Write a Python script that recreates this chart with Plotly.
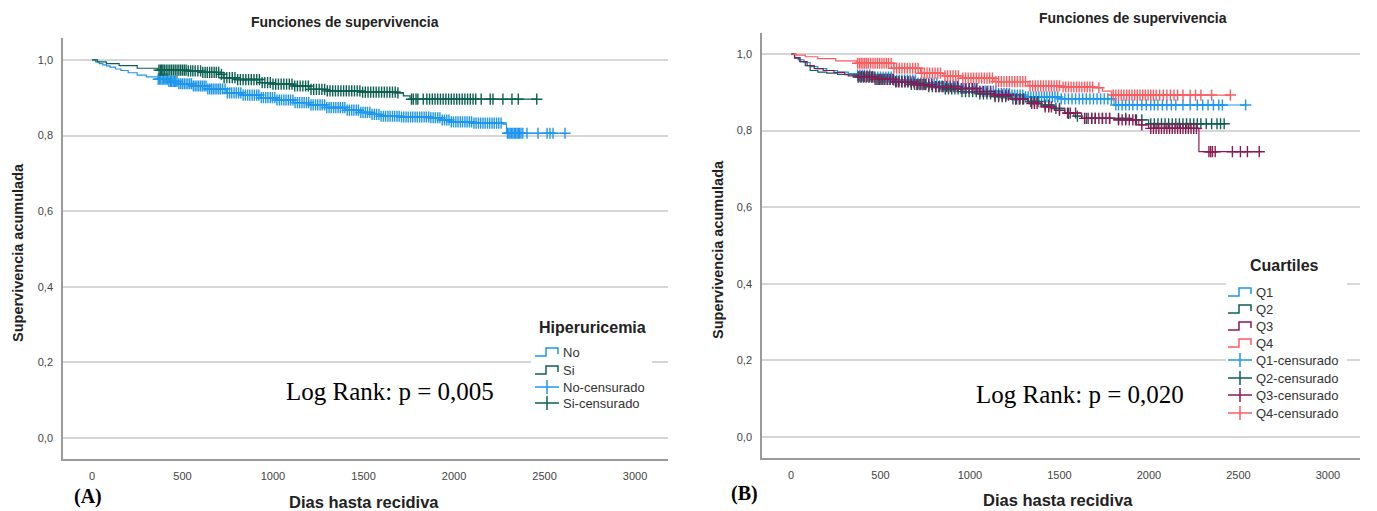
import numpy as np
import plotly.graph_objects as go

W, H = 1377, 511

# ---------------- DATA ----------------
# Panel A: Hiperuricemia
no_t = [0, 20, 40, 60, 80, 100, 130, 160, 200, 250, 300, 366, 420, 480, 560, 640, 744, 830, 928, 1020,
        1112, 1200, 1297, 1400, 1481, 1540, 1591, 1700, 1868, 1930, 1978, 2100, 2271, 2290]
no_s = [1.0, 0.995, 0.99, 0.987, 0.984, 0.981, 0.976, 0.972, 0.966, 0.960, 0.955, 0.949, 0.943, 0.937,
        0.931, 0.923, 0.913, 0.907, 0.900, 0.894, 0.887, 0.881, 0.874, 0.867, 0.861, 0.856, 0.851, 0.849,
        0.847, 0.841, 0.836, 0.833, 0.830, 0.806]
no_end = 2613
no_cens = [366, 372, 380, 388, 395, 403, 410, 418, 425, 433, 440, 448, 455, 463, 470, 480, 490, 500, 510,
           520, 530, 540, 550, 560, 570, 580, 590, 600, 610, 620, 630, 640, 650, 660, 670, 680, 690, 700,
           710, 722, 735, 748, 760, 772, 785, 797, 810, 822, 835, 847, 860, 872, 885, 897, 910, 922, 935,
           947, 960, 972, 985, 997, 1010, 1022, 1035, 1047, 1060, 1072, 1085, 1097, 1110, 1122, 1135, 1147,
           1160, 1172, 1185, 1197, 1210, 1222, 1235, 1247, 1260, 1272, 1285, 1297, 1310, 1322, 1335, 1347,
           1360, 1372, 1385, 1397, 1410, 1422, 1435, 1447, 1460, 1472, 1485, 1497, 1510, 1522, 1535, 1547,
           1560, 1572, 1585, 1597, 1610, 1622, 1635, 1647, 1660, 1672, 1685, 1697, 1710, 1722, 1735, 1747,
           1760, 1772, 1785, 1797, 1810, 1822, 1835, 1847, 1860, 1872, 1885, 1897, 1910, 1922, 1935, 1947,
           1960, 1972, 1985, 1997, 2010, 2022, 2035, 2047, 2060, 2072, 2085, 2097, 2110, 2122, 2135, 2147,
           2160, 2172, 2185, 2197, 2210, 2222, 2235, 2247, 2260, 2295, 2303, 2310, 2318, 2325, 2333, 2340,
           2348, 2355, 2362, 2370, 2380, 2403, 2464, 2514, 2530, 2547, 2613]

si_t = [0, 30, 80, 150, 250, 366, 523, 610, 707, 725, 800, 928, 1000, 1111, 1204, 1300, 1481, 1683,
        1720, 1757]
si_s = [1.0, 0.995, 0.99, 0.985, 0.978, 0.973, 0.971, 0.967, 0.962, 0.953, 0.948, 0.940, 0.936, 0.931,
        0.922, 0.918, 0.915, 0.913, 0.905, 0.896]
si_end = 2457
si_cens = [370, 378, 385, 392, 400, 410, 420, 430, 440, 450, 460, 470, 480, 490, 500, 510, 520, 532, 545,
           557, 570, 585, 600, 612, 625, 637, 650, 662, 675, 687, 700, 715, 730, 745, 760, 775, 790, 805,
           820, 835, 850, 865, 880, 895, 910, 925, 940, 955, 970, 985, 1000, 1015, 1030, 1045, 1060, 1075,
           1090, 1105, 1120, 1135, 1150, 1165, 1180, 1195, 1210, 1225, 1240, 1255, 1270, 1285, 1300, 1315,
           1330, 1345, 1360, 1375, 1390, 1405, 1420, 1435, 1450, 1465, 1480, 1495, 1510, 1525, 1540, 1555,
           1570, 1585, 1600, 1615, 1630, 1645, 1660, 1675, 1690, 1765, 1775, 1790, 1800, 1830, 1850, 1865,
           1880, 1895, 1910, 1925, 1940, 1955, 1970, 1985, 2000, 2015, 2030, 2045, 2060, 2075, 2090, 2105,
           2120, 2150, 2200, 2215, 2270, 2320, 2355, 2457]

# Panel B: Cuartiles
q1_t = [0, 20, 40, 73, 107, 150, 200, 260, 320, 369, 450, 575, 700, 820, 949, 1050, 1150, 1230, 1300,
        1493, 1805]
q1_s = [1.0, 0.99, 0.985, 0.978, 0.967, 0.962, 0.957, 0.953, 0.949, 0.945, 0.940, 0.932, 0.924, 0.917,
        0.910, 0.903, 0.897, 0.893, 0.888, 0.883, 0.867]
q1_end = 2540
q1_cens = [372, 385, 398, 410, 425, 440, 455, 470, 485, 500, 515, 530, 545, 560, 575, 590, 605, 620, 635,
           650, 665, 680, 695, 710, 725, 740, 755, 770, 785, 800, 815, 830, 845, 860, 875, 890, 905, 920,
           935, 950, 965, 980, 995, 1010, 1025, 1040, 1055, 1070, 1085, 1100, 1115, 1130, 1145, 1160, 1175,
           1190, 1205, 1220, 1235, 1250, 1265, 1280, 1295, 1310, 1325, 1340, 1355, 1370, 1385, 1400, 1415,
           1430, 1445, 1460, 1475, 1490, 1510, 1530, 1550, 1570, 1590, 1610, 1630, 1650, 1670, 1690, 1710,
           1730, 1750, 1770, 1790, 1815, 1830, 1850, 1870, 1890, 1910, 1935, 1960, 1985, 2010, 2030, 2050,
           2075, 2100, 2125, 2150, 2190, 2230, 2270, 2300, 2330, 2360, 2390, 2410, 2540]

q2_t = [0, 20, 50, 80, 107, 150, 200, 260, 320, 369, 470, 575, 670, 762, 850, 949, 1040, 1135, 1230,
        1324, 1400, 1472, 1530, 1580, 1624, 1905, 1998]
q2_s = [1.0, 0.99, 0.98, 0.97, 0.957, 0.953, 0.95, 0.947, 0.943, 0.940, 0.934, 0.928, 0.921, 0.915,
        0.909, 0.902, 0.896, 0.889, 0.883, 0.876, 0.867, 0.858, 0.845, 0.838, 0.832, 0.828, 0.818]
q2_end = 2420
q2_cens = [375, 390, 405, 420, 435, 450, 465, 480, 495, 510, 525, 540, 555, 570, 585, 600, 618, 636, 654,
           672, 690, 708, 726, 744, 770, 790, 808, 826, 844, 862, 880, 898, 916, 934, 955, 975, 995, 1015,
           1035, 1055, 1075, 1095, 1115, 1140, 1160, 1180, 1200, 1240, 1260, 1280, 1300, 1340, 1360, 1380,
           1420, 1440, 1480, 1500, 1550, 1600, 1650, 1680, 1700, 1740, 1780, 1830, 1870, 1930, 1960, 2010,
           2030, 2050, 2070, 2090, 2110, 2130, 2150, 2170, 2190, 2210, 2230, 2250, 2270, 2290, 2320, 2350,
           2380, 2400, 2420]

q3_t = [0, 20, 50, 90, 130, 180, 240, 300, 369, 470, 575, 700, 800, 949, 1040, 1135, 1230, 1324, 1400,
        1472, 1530, 1624, 1805, 1943, 1998, 2279]
q3_s = [1.0, 0.99, 0.98, 0.97, 0.962, 0.957, 0.952, 0.946, 0.941, 0.934, 0.927, 0.920, 0.915, 0.910,
        0.902, 0.893, 0.882, 0.871, 0.862, 0.853, 0.846, 0.832, 0.828, 0.815, 0.806, 0.745]
q3_end = 2616
q3_cens = [380, 395, 410, 425, 440, 455, 470, 487, 503, 520, 537, 553, 570, 587, 603, 620, 637, 653, 670,
           687, 703, 720, 737, 753, 770, 787, 810, 830, 850, 870, 890, 910, 930, 955, 975, 995, 1015, 1035,
           1055, 1075, 1095, 1115, 1140, 1160, 1180, 1200, 1215, 1255, 1275, 1295, 1345, 1360, 1375, 1420,
           1440, 1455, 1500, 1545, 1560, 1590, 1640, 1660, 1680, 1700, 1720, 1740, 1760, 1780, 1830, 1850,
           1870, 1890, 1910, 1925, 1960, 2010, 2025, 2040, 2055, 2070, 2085, 2100, 2115, 2130, 2145, 2160,
           2175, 2190, 2205, 2220, 2235, 2250, 2265, 2335, 2345, 2355, 2370, 2466, 2511, 2550, 2616]

q4_t = [0, 30, 80, 150, 250, 369, 575, 724, 850, 949, 1135, 1324, 1511, 1700, 1740, 1792]
q4_s = [1.0, 0.997, 0.993, 0.988, 0.982, 0.976, 0.963, 0.950, 0.943, 0.937, 0.928, 0.917, 0.914, 0.912,
        0.903, 0.893]
q4_end = 2455
q4_cens = [372, 382, 392, 402, 412, 422, 432, 445, 458, 470, 483, 495, 508, 520, 533, 545, 560, 575, 590,
           605, 620, 635, 650, 665, 680, 695, 710, 730, 745, 760, 775, 790, 805, 820, 835, 860, 875, 890,
           905, 920, 935, 960, 975, 990, 1005, 1020, 1035, 1050, 1065, 1080, 1095, 1110, 1125, 1145, 1160,
           1175, 1190, 1205, 1220, 1235, 1250, 1265, 1280, 1295, 1310, 1335, 1350, 1365, 1380, 1395, 1410,
           1425, 1440, 1455, 1470, 1485, 1500, 1520, 1535, 1550, 1565, 1580, 1595, 1610, 1625, 1640, 1655,
           1670, 1685, 1720, 1800, 1815, 1830, 1845, 1860, 1875, 1890, 1905, 1920, 1935, 1950, 1965, 1980,
           1995, 2010, 2025, 2040, 2060, 2080, 2100, 2120, 2140, 2160, 2190, 2230, 2260, 2290, 2350, 2455]

y_tickvals = [0.0, 0.2, 0.4, 0.6, 0.8, 1.0]
y_ticktext = ["0,0", "0,2", "0,4", "0,6", "0,8", "1,0"]
x_tickvals = [0, 500, 1000, 1500, 2000, 2500, 3000]
x_ticktext = ["0", "500", "1000", "1500", "2000", "2500", "3000"]

# ---------------- STYLE ----------------
C_NO = "#1e96ee"
C_SI = "#0d6152"
C_Q1 = "#1e96ee"
C_Q2 = "#0d6152"
C_Q3 = "#8a1a55"
C_Q4 = "#fb5c60"

SANS = "Liberation Sans, Arial, sans-serif"
NARROW = "Liberation Sans Narrow, Arial Narrow, Liberation Sans, Arial, sans-serif"
SERIF = "Liberation Serif, Times New Roman, serif"


def px(x):
    return x / W


def py(y):
    return 1 - y / H


def surv_at(t_list, s_list, times):
    idx = np.searchsorted(np.array(t_list), np.array(times), side="right") - 1
    return list(np.array(s_list)[idx])


fig = go.Figure()


def add_km(t, s, end, cens, color, xa, ya):
    xs = list(t) + [end]
    ys = list(s) + [s[-1]]
    fig.add_trace(go.Scatter(x=xs, y=ys, mode="lines", line=dict(color=color, width=1.2, shape="hv"),
                             xaxis=xa, yaxis=ya, showlegend=False, hoverinfo="skip"))
    fig.add_trace(go.Scatter(x=cens, y=surv_at(t, s, cens), mode="markers",
                             marker=dict(symbol="cross-thin", size=8, line=dict(color=color, width=1.4)),
                             xaxis=xa, yaxis=ya, showlegend=False, hoverinfo="skip"))


add_km(no_t, no_s, no_end, no_cens, C_NO, "x", "y")
add_km(si_t, si_s, si_end, si_cens, C_SI, "x", "y")
add_km(q1_t, q1_s, q1_end, q1_cens, C_Q1, "x2", "y2")
add_km(q2_t, q2_s, q2_end, q2_cens, C_Q2, "x2", "y2")
add_km(q3_t, q3_s, q3_end, q3_cens, C_Q3, "x2", "y2")
add_km(q4_t, q4_s, q4_end, q4_cens, C_Q4, "x2", "y2")

axis_common = dict(showline=True, linecolor="#9a9a9a", linewidth=1.5, ticks="", zeroline=False,
                   tickfont=dict(family=NARROW, size=11, color="#444"), ticklabelstandoff=6)

fig.update_layout(
    width=W, height=H, margin=dict(l=0, r=0, t=0, b=0),
    paper_bgcolor="white", plot_bgcolor="white", showlegend=False,
    xaxis=dict(domain=[px(63), px(668)], range=[-160, 3182], anchor="y", showgrid=False,
               tickvals=x_tickvals, ticktext=x_ticktext, **axis_common),
    yaxis=dict(domain=[py(459), py(38)], range=[-0.056, 1.058], anchor="x", showgrid=True,
               gridcolor="#d6d6d6", gridwidth=2, tickvals=y_tickvals, ticktext=y_ticktext, **axis_common),
    xaxis2=dict(domain=[px(762), px(1360)], range=[-162, 3179], anchor="y2", showgrid=False,
                tickvals=x_tickvals, ticktext=x_ticktext, **axis_common),
    yaxis2=dict(domain=[py(458), py(33)], range=[-0.055, 1.055], anchor="x2", showgrid=True,
                gridcolor="#d6d6d6", gridwidth=2, tickvals=y_tickvals, ticktext=y_ticktext, **axis_common),
)

ann = []
shapes = []


def text(x, y, s, size, family=SANS, bold=False, color="#222", angle=0, xanchor="center"):
    ann.append(dict(x=px(x), y=py(y), xref="paper", yref="paper", text=("<b>%s</b>" % s) if bold else s,
                    showarrow=False, font=dict(family=family, size=size, color=color), textangle=angle,
                    xanchor=xanchor, yanchor="middle"))


# titles
text(345, 22, "Funciones de supervivencia", 14, bold=True)
text(1133, 18, "Funciones de supervivencia", 14, bold=True)
text(18, 253, "Supervivencia acumulada", 14.5, bold=True, angle=-90)
text(718, 250, "Supervivencia acumulada", 14.5, bold=True, angle=-90)
text(364, 502, "Dias hasta recidiva", 16.5, bold=True)
text(1058, 500, "Dias hasta recidiva", 16.5, bold=True)
text(88, 496, "(A)", 20, family=SERIF, bold=True, color="#000")
text(744, 493, "(B)", 20, family=SERIF, bold=True, color="#000")
text(390, 391, "Log Rank: p = 0,005", 25, family=SERIF, color="#000")
text(1080, 394, "Log Rank: p = 0,020", 25, family=SERIF, color="#000")


def legend(x0, y_title, xc_title, title, ys, labels, colors, kinds, box):
    shapes.append(dict(type="rect", xref="paper", yref="paper", x0=px(box[0]), x1=px(box[1]),
                       y0=py(box[3]), y1=py(box[2]), fillcolor="white", line=dict(width=0), layer="above"))
    text(xc_title, y_title, title, 16, bold=True)
    for yc, lab, col, kind in zip(ys, labels, colors, kinds):
        if kind == "step":
            path = "M %f,%f L %f,%f L %f,%f L %f,%f L %f,%f" % (
                px(x0), py(yc + 4), px(x0 + 11), py(yc + 4), px(x0 + 11), py(yc - 4),
                px(x0 + 23), py(yc - 4), px(x0 + 23), py(yc + 2))
            shapes.append(dict(type="path", xref="paper", yref="paper", path=path,
                               line=dict(color=col, width=1.5), layer="above"))
        else:
            shapes.append(dict(type="line", xref="paper", yref="paper", x0=px(x0), x1=px(x0 + 24),
                               y0=py(yc), y1=py(yc), line=dict(color=col, width=1.5), layer="above"))
            shapes.append(dict(type="line", xref="paper", yref="paper", x0=px(x0 + 12), x1=px(x0 + 12),
                               y0=py(yc - 7), y1=py(yc + 7), line=dict(color=col, width=1.5), layer="above"))
        text(x0 + 26, yc, lab, 13, family=NARROW, color="#333", xanchor="left")


legend(535, 327, 592, "Hiperuricemia", [352, 370, 387, 403],
       ["No", "Si", "No-censurado", "Si-censurado"], [C_NO, C_SI, C_NO, C_SI],
       ["step", "step", "cross", "cross"], (531, 652, 314, 413))
legend(1228, 265, 1284, "Cuartiles", [292, 309, 326, 343, 360, 378, 395, 413],
       ["Q1", "Q2", "Q3", "Q4", "Q1-censurado", "Q2-censurado", "Q3-censurado", "Q4-censurado"],
       [C_Q1, C_Q2, C_Q3, C_Q4, C_Q1, C_Q2, C_Q3, C_Q4],
       ["step"] * 4 + ["cross"] * 4, (1226, 1347, 253, 422))

fig.update_layout(annotations=ann, shapes=shapes)
fig.write_html("out.html")
